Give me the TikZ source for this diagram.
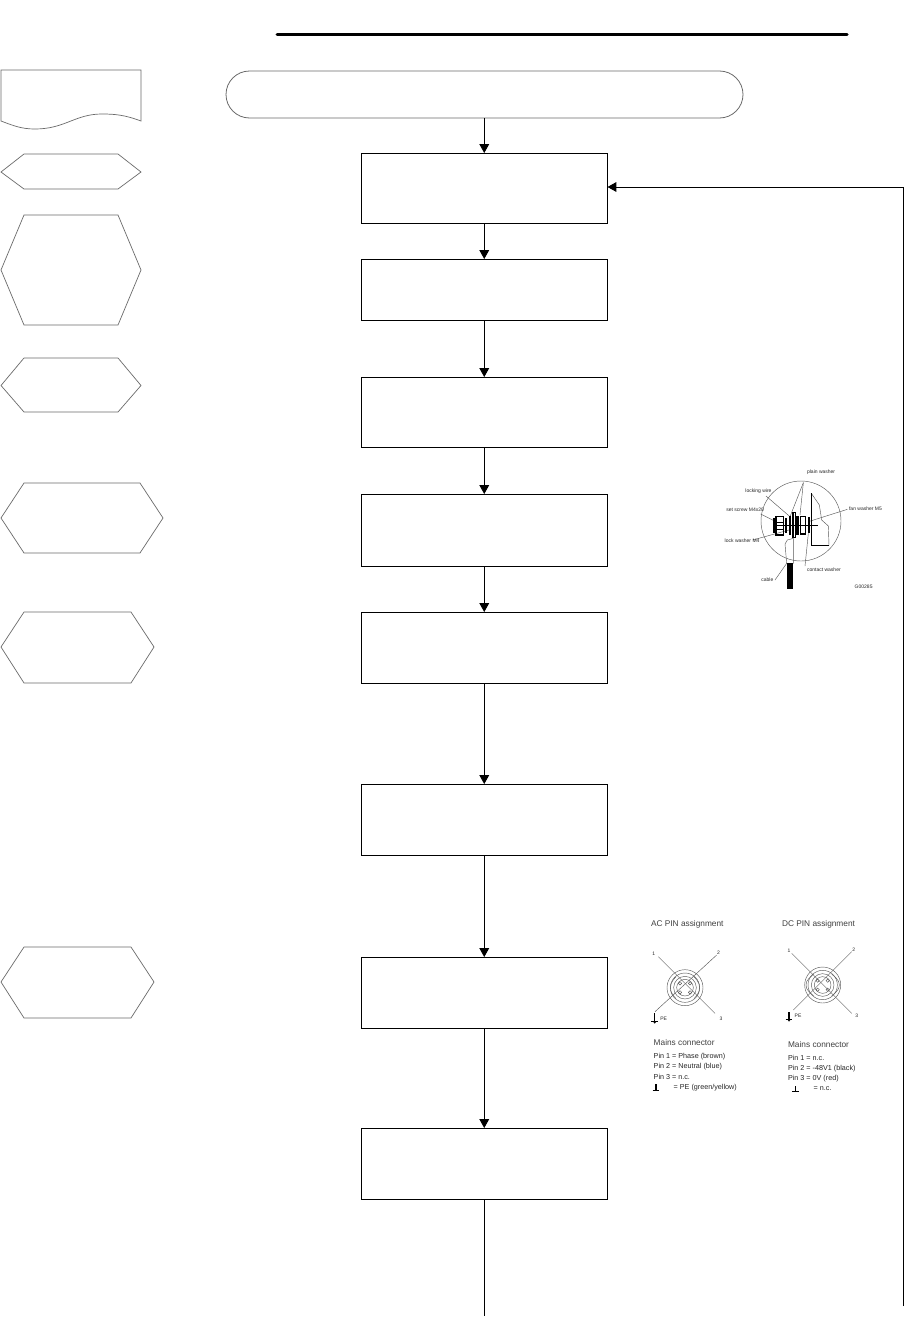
\documentclass[tikz,border=0pt]{standalone}
\usepackage{fontspec}
\setmainfont{Liberation Sans}
\usetikzlibrary{arrows.meta,shapes.misc}
\definecolor{edgegray}{gray}{0.42}
\definecolor{figgray}{gray}{0.35}
\tikzset{
  px/.style={x=.5pt,y=-.5pt},
  bx/.style={draw=black,line width=.5pt,minimum width=123.25pt,inner sep=0pt,outer sep=0pt},
  flow/.style={draw=black,line width=.5pt,-{Triangle[length=4.4pt,width=4.8pt]}},
  plainline/.style={draw=black,line width=.5pt},
  leftshape/.style={draw=edgegray,line width=.35pt},
  fine/.style={draw=figgray,line width=.22pt},
  heavy/.style={draw=black,line width=.6pt},
  tiny/.style={inner sep=0pt,anchor=west,font=\fontsize{2.5pt}{3pt}\selectfont,text=black!85},
  pintxt/.style={inner sep=0pt,anchor=west,font=\fontsize{3.6pt}{4.4pt}\selectfont,text=black!85},
  headtxt/.style={inner sep=0pt,anchor=west,font=\fontsize{4.15pt}{5pt}\selectfont,text=black!75},
}
\begin{document}
\begin{tikzpicture}[px]
\useasboundingbox (0,0) rectangle (904,1317);
\fill[white] (0,0) rectangle (904,1317);
% title rule
\draw[black,line width=1.5pt,line cap=round] (277,34) -- (847,34);
% left column shapes
\draw[leftshape] (1,121) -- (1,70) -- (141,70) -- (141,121)
  .. controls (125,115) and (115,114) .. (102,114)
  .. controls (75,114) and (65,129) .. (35,129)
  .. controls (22,129) and (14,126) .. (1,121) -- cycle;
\draw[leftshape] (1,172) -- (24,154) -- (118,154) -- (141,172) -- (118,189) -- (24,189) -- cycle;
\draw[leftshape] (1,270) -- (24,215) -- (118,215) -- (141,270) -- (118,325) -- (24,325) -- cycle;
\draw[leftshape] (1,385.5) -- (24,358) -- (118,358) -- (141,385.5) -- (118,412) -- (24,412) -- cycle;
\draw[leftshape] (1,518) -- (24,483) -- (140,483) -- (163,518) -- (140,553) -- (24,553) -- cycle;
\draw[leftshape] (1,647) -- (24,612) -- (131,612) -- (154,647) -- (131,683) -- (24,683) -- cycle;
\draw[leftshape] (1,982) -- (24,947) -- (131,947) -- (154,982) -- (131,1018) -- (24,1018) -- cycle;
% main column
\node[rounded rectangle,draw=edgegray,line width=.4pt,minimum width=258.5pt,minimum height=23.5pt,inner sep=0pt,outer sep=0pt] (start) at (484.5,94.5) {};
\node[bx,minimum height=35pt] (b1) at (484.25,188) {};
\node[bx,minimum height=30.5pt] (b2) at (484.25,289.5) {};
\node[bx,minimum height=35pt] (b3) at (484.25,412) {};
\node[bx,minimum height=36pt] (b4) at (484.25,530) {};
\node[bx,minimum height=35.5pt] (b5) at (484.25,647.5) {};
\node[bx,minimum height=35.5pt] (b6) at (484.25,819.5) {};
\node[bx,minimum height=35.5pt] (b7) at (484.25,992.5) {};
\node[bx,minimum height=35.5pt] (b8) at (484.25,1163.5) {};
\coordinate (endmain) at (484.25,1316);
\coordinate (backlow) at (903,1306);
\coordinate (backtop) at (903,187);
\draw[flow] (start.south -| b1) -- (b1);
\draw[flow] (b1) -- (b2);
\draw[flow] (b2) -- (b3);
\draw[flow] (b3) -- (b4);
\draw[flow] (b4) -- (b5);
\draw[flow] (b5) -- (b6);
\draw[flow] (b6) -- (b7);
\draw[flow] (b7) -- (b8);
\draw[plainline] (b8) -- (endmain);
\draw[flow] (backlow) -- (backtop) -- (b1.east |- backtop);
% washer illustration
\begin{scope}[shift={(690,450)},x=.16667pt,y=-.16667pt]
\draw[fine] (333,213) circle[radius=120];
\draw[fine] (228,138) -- (300,200);
\draw[fine] (340,98) -- (298,205);
\draw[fine] (340,98) -- (330,195);
\draw[fine] (212,192) -- (258,215);
\draw[fine] (188,270) -- (297,240);
\draw[fine] (472,178) -- (355,215);
\draw[fine] (345,348) -- (355,250);
\draw[fine] (255,390) -- (290,340);
\draw[fine] (364,130) -- (388,165) -- (395,210) -- (415,228) -- (417,287);
\draw[heavy] (364,130) -- (364,287) -- (418,287);
\draw[heavy] (250,227) -- (385,227);
\draw[heavy] (258,200) rectangle (280,255);
\draw[heavy] (258,218) -- (280,218) (258,238) -- (280,238);
\fill[black] (250,205) rectangle (256,250);
\fill[black] (286,205) rectangle (291,250);
\fill[black] (296,198) rectangle (304,255);
\draw[heavy] (309,188) rectangle (316,262);
\fill[black] (316,198) rectangle (326,255);
\draw[heavy] (332,200) rectangle (346,252);
\fill[black] (354,202) rectangle (360,250);
\draw[fine] (310,265) -- (292,270) -- (285,282) -- (290,340) -- (310,340) -- (310,265);
\fill[black] (290,340) rectangle (310,418);
\node[tiny] (t1) at (350,67) {plain washer};
\node[tiny] (t2) at (165,124) {locking wire};
\node[tiny] (t3) at (108,178) {set screw M4x20};
\node[tiny] (t4) at (103,271) {lock washer M4};
\node[tiny] (t5) at (476,175) {fan washer M5};
\node[tiny] (t6) at (350,358) {contact washer};
\node[tiny] (t7) at (213,390) {cable};
\node[tiny] (t8) at (493,410) {G00285};
\end{scope}
% pin assignment illustration
\begin{scope}[shift={(630,905)},x=.16667pt,y=-.16667pt]
\node[headtxt] (ach) at (62,58) {AC PIN assignment};
\node[headtxt] (dch) at (455,58) {DC PIN assignment};
% AC connector
\draw[fine] (85,155) -- (255,325);
\draw[fine] (260,150) -- (75,320);
\foreach \r in {54,44,34,25}{\draw[fine] (165,248) circle[radius=\r];}
\draw[fine,rounded corners=5pt] (138,215) -- (110,248) -- (138,281);
\draw[fine,rounded corners=5pt] (192,215) -- (220,248) -- (192,281);
\foreach \a/\b in {150/235,180/235,150/262,180/262}{\draw[fine] (\a,\b) circle[radius=5];}
\node[tiny] (p1) at (66,146) {1};
\node[tiny] (p2) at (260,144) {2};
\node[tiny] (p3) at (268,340) {3};
\draw[heavy] (74,325) -- (74,350) (63,350) -- (85,350);
\fill[black] (68,348) -- (80,348) -- (74,356) -- cycle;
\node[tiny] (pe1) at (90,340) {PE};
\node[headtxt] (m1) at (70,412) {Mains connector};
\node[pintxt] (a1) at (70,455) {Pin 1 = Phase (brown)};
\node[pintxt] (a2) at (70,486) {Pin 2 = Neutral (blue)};
\node[pintxt] (a3) at (70,517) {Pin 3 = n.c.};
\draw[heavy] (78,538) -- (78,556) (68,556) -- (88,556);
\node[pintxt] (a4) at (130,549) {= PE (green/yellow)};
% DC connector
\draw[fine] (485,145) -- (665,325);
\draw[fine] (665,140) -- (490,315);
\foreach \r in {54,44,34,25}{\draw[fine] (578,240) circle[radius=\r];}
\draw[fine,rounded corners=5pt] (551,207) -- (515,240) -- (551,273);
\draw[fine,rounded corners=5pt] (605,207) -- (641,240) -- (605,273);
\foreach \a/\b in {563/227,593/227,563/254,593/254}{\draw[fine] (\a,\b) circle[radius=5];}
\node[tiny] (q1) at (472,136) {1};
\node[tiny] (q2) at (666,134) {2};
\node[tiny] (q3) at (675,333) {3};
\draw[heavy] (477,322) -- (477,344) (467,344) -- (487,344);
\fill[black] (471,342) -- (483,342) -- (477,350) -- cycle;
\node[tiny] (pe2) at (493,332) {PE};
\node[headtxt] (m2) at (473,420) {Mains connector};
\node[pintxt] (d1) at (473,459) {Pin 1 = n.c.};
\node[pintxt] (d2) at (473,490) {Pin 2 = -48V1 (black)};
\node[pintxt] (d3) at (473,521) {Pin 3 = 0V (red)};
\draw[heavy] (497,544) -- (497,560) (487,560) -- (507,560);
\node[pintxt] (d4) at (550,550) {= n.c.};
\end{scope}
\end{tikzpicture}
\end{document}
